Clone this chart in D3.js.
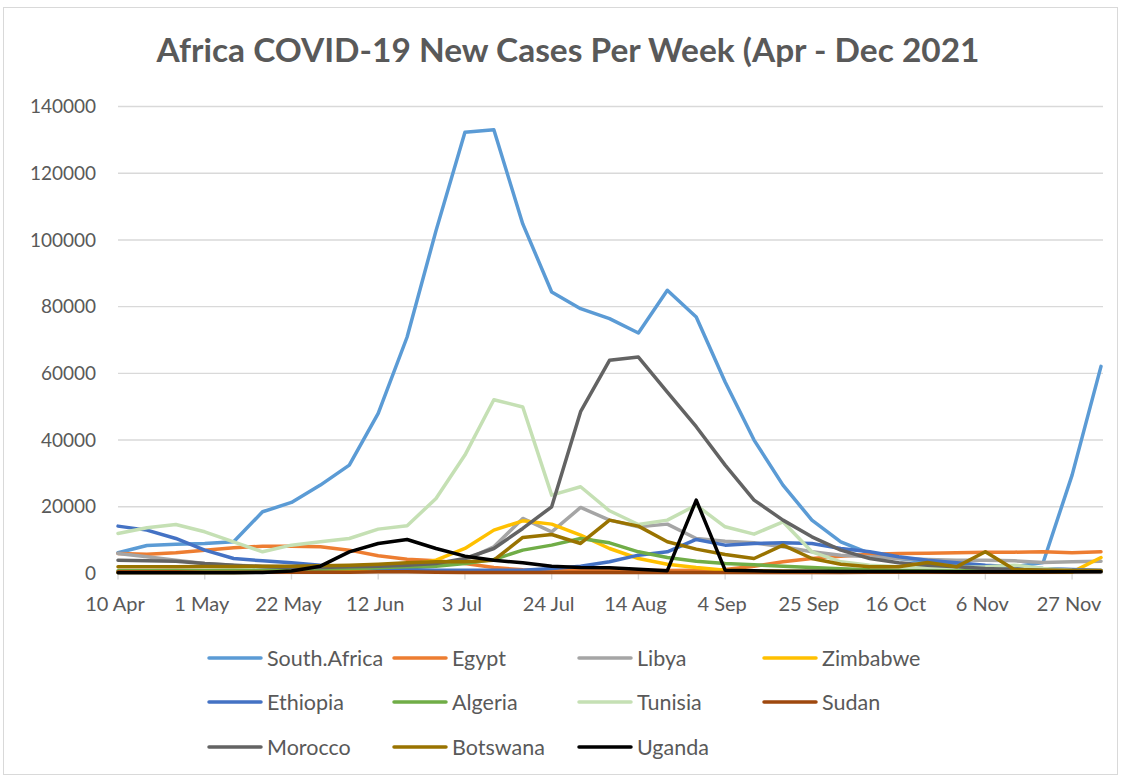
<!DOCTYPE html>
<html>
<head>
<meta charset="utf-8">
<script src="https://cdn.jsdelivr.net/npm/d3@7"></script>
<style>
  body { margin: 0; background: #fff; }
  text { font-family: Lato, "Open Sans", sans-serif; fill: #595959; }
</style>
</head>
<body>
<div id="chart"></div>
<script>
//////////////////////////////////////////////////////////////////////////////
// Data

var weeks = ["10 Apr", "17 Apr", "24 Apr", "1 May", "8 May", "15 May", "22 May",
             "29 May", "5 Jun", "12 Jun", "19 Jun", "26 Jun", "3 Jul", "10 Jul",
             "17 Jul", "24 Jul", "31 Jul", "7 Aug", "14 Aug", "21 Aug", "28 Aug",
             "4 Sep", "11 Sep", "18 Sep", "25 Sep", "2 Oct", "9 Oct", "16 Oct",
             "23 Oct", "30 Oct", "6 Nov", "13 Nov", "20 Nov", "27 Nov", "4 Dec"];

var yTicks = [0, 20000, 40000, 60000, 80000, 100000, 120000, 140000];

var southAfrica = [6200, 8400, 8800, 9000, 9500, 18500, 21300, 26500, 32500, 48000,
                   70900, 102800, 132300, 133000, 104800, 84400, 79400, 76400, 72100, 84900,
                   76900, 57400, 40000, 26500, 16000, 9500, 6000, 4500, 3500, 2500,
                   2200, 2000, 3300, 29500, 62100];
var egypt = [6000, 5800, 6200, 7000, 7700, 8200, 8200, 8000, 7000, 5300,
             4300, 3800, 3000, 1800, 1100, 1000, 900, 900, 900, 900,
             1000, 1200, 2200, 3500, 4500, 5200, 5800, 6000, 6100, 6200,
             6400, 6400, 6500, 6200, 6500];
var libya = [6000, 5000, 4000, 3000, 2500, 2200, 2000, 2000, 2000, 2200,
             2500, 2800, 4000, 8000, 16500, 12500, 19800, 16000, 14000, 14800,
             10500, 9700, 9200, 8000, 6500, 5500, 5000, 4500, 4200, 4000,
             4000, 3800, 3300, 3500, 3700];
var zimbabwe = [300, 300, 300, 300, 300, 400, 400, 500, 1000, 1500,
                2500, 4000, 7500, 13000, 15800, 14800, 11500, 7500, 4500, 2800,
                1800, 1000, 800, 700, 600, 600, 500, 500, 500, 400,
                400, 400, 400, 400, 4800];
var ethiopia = [14200, 13000, 10500, 7000, 4500, 3800, 3200, 2500, 2000, 1500,
                1200, 1000, 1000, 1000, 1000, 1500, 2200, 3500, 5500, 6500,
                10200, 8500, 9000, 9200, 9000, 7500, 6500, 5000, 4000, 3200,
                2500, 2000, 1500, 1200, 1000];
var algeria = [800, 800, 900, 900, 1000, 1000, 1200, 1300, 1500, 1700,
               2000, 2200, 3000, 4200, 7000, 8500, 10500, 9200, 6500, 4800,
               3700, 3000, 2600, 2200, 1800, 1400, 1100, 1000, 900, 800,
               800, 700, 700, 700, 700];
var tunisia = [12000, 13700, 14700, 12500, 9500, 6500, 8500, 9500, 10500, 13300,
               14300, 22500, 35500, 52100, 49900, 23500, 26000, 18800, 14700, 16000,
               20500, 14000, 11800, 15500, 6500, 3500, 2500, 2000, 1800, 1800,
               2000, 2500, 1500, 1000, 900];
var sudan = [500, 500, 500, 400, 400, 400, 400, 400, 400, 500,
             500, 400, 300, 300, 300, 300, 300, 300, 300, 300,
             300, 300, 300, 300, 300, 300, 400, 400, 400, 400,
             400, 400, 400, 500, 600];
var morocco = [4000, 3800, 3700, 3000, 2500, 2000, 1800, 1800, 2000, 2200,
               2500, 3000, 4500, 7500, 13500, 20000, 48500, 63900, 64900, 54400,
               44000, 32500, 22000, 16000, 11000, 7000, 4500, 3200, 2500, 2000,
               1500, 1200, 1000, 900, 800];
var botswana = [2000, 2000, 2000, 2100, 2100, 2200, 2200, 2300, 2500, 2800,
                3200, 3500, 3500, 4000, 10800, 11700, 9000, 16000, 14200, 9500,
                7300, 5700, 4500, 8500, 4500, 2800, 2000, 2000, 3300, 2000,
                6500, 1200, 1000, 900, 900];
var uganda = [250, 250, 250, 250, 250, 300, 750, 2200, 6500, 9000,
              10200, 7500, 5200, 4000, 3200, 2200, 1800, 1700, 1250, 850,
              22000, 1000, 800, 700, 700, 600, 600, 600, 600, 500,
              500, 500, 500, 500, 500];

var names  = ["South.Africa", "Egypt", "Libya", "Zimbabwe",
              "Ethiopia", "Algeria", "Tunisia", "Sudan",
              "Morocco", "Botswana", "Uganda"];
var colors = ["#5b9bd5", "#ed7d31", "#a5a5a5", "#ffc000",
              "#4472c4", "#70ad47", "#c5e0b4", "#9e480e",
              "#636363", "#997300", "#000000"];
var values = [southAfrica, egypt, libya, zimbabwe, ethiopia, algeria,
              tunisia, sudan, morocco, botswana, uganda];

var series = names.map(function(n, i) {
    return { name: n, color: colors[i], values: values[i] };
});

//////////////////////////////////////////////////////////////////////////////
// Layout

var width = 1125, height = 779;
var plotLeft = 118, plotRight = 1101, plotTop = 106.5, plotBottom = 573.5;

var xScale = d3.scalePoint().domain(weeks).range([plotLeft, plotRight]);
var yScale = d3.scaleLinear().domain([0, 140000]).range([plotBottom, plotTop]);

var svg = d3.select("#chart")
    .append("svg")
    .attr("width", width)
    .attr("height", height);

svg.append("rect")
    .attr("width", width).attr("height", height)
    .attr("fill", "#fff");

svg.append("rect")
    .attr("x", 3.5).attr("y", 7.5)
    .attr("width", 1114).attr("height", 767)
    .attr("fill", "none")
    .attr("stroke", "#d9d9d9")
    .attr("stroke-width", 1);

svg.append("text")
    .attr("x", 568)
    .attr("y", 62)
    .attr("text-anchor", "middle")
    .attr("font-size", 32)
    .attr("font-weight", "bold")
    .attr("textLength", 823)
    .attr("lengthAdjust", "spacingAndGlyphs")
    .text("Africa COVID-19 New Cases Per Week (Apr - Dec 2021");

// gridlines
svg.append("g")
    .selectAll("line")
    .data(yTicks)
    .enter()
    .append("line")
    .attr("x1", plotLeft).attr("x2", plotRight + 2)
    .attr("y1", function(d) { return yScale(d); })
    .attr("y2", function(d) { return yScale(d); })
    .attr("stroke", "#d9d9d9")
    .attr("stroke-width", 1.4);

svg.append("g")
    .selectAll("text")
    .data(yTicks)
    .enter()
    .append("text")
    .attr("x", 96)
    .attr("y", function(d) { return yScale(d); })
    .attr("dy", "0.35em")
    .attr("text-anchor", "end")
    .attr("font-size", 19)
    .text(function(d) { return d; });

// x axis ticks and labels, every third week
var xTicks = weeks.filter(function(d, i) { return i % 3 === 0; });

svg.append("g")
    .selectAll("line")
    .data(xTicks)
    .enter()
    .append("line")
    .attr("x1", function(d) { return xScale(d); })
    .attr("x2", function(d) { return xScale(d); })
    .attr("y1", plotBottom).attr("y2", plotBottom + 6)
    .attr("stroke", "#d9d9d9")
    .attr("stroke-width", 1.4);

svg.append("g")
    .selectAll("text")
    .data(xTicks)
    .enter()
    .append("text")
    .attr("x", function(d) { return xScale(d) - 3; })
    .attr("y", 611)
    .attr("text-anchor", "middle")
    .attr("font-size", 20)
    .text(function(d) { return d; });

// lines
var line = d3.line()
    .x(function(d, i) { return xScale(weeks[i]); })
    .y(function(d) { return yScale(d); });

svg.append("g")
    .selectAll("path")
    .data(series)
    .enter()
    .append("path")
    .attr("d", function(d) { return line(d.values); })
    .attr("fill", "none")
    .attr("stroke", function(d) { return d.color; })
    .attr("stroke-width", 3.5)
    .attr("stroke-linejoin", "round")
    .attr("stroke-linecap", "round");

// legend, 4 per row
var legend = svg.append("g")
    .selectAll("g")
    .data(series)
    .enter()
    .append("g")
    .attr("transform", function(d, i) {
        return "translate(" + (209 + (i % 4) * 185) + "," + [658, 702, 747][Math.floor(i / 4)] + ")";
    });

legend.append("line")
    .attr("x1", 0).attr("x2", 52)
    .attr("stroke", function(d) { return d.color; })
    .attr("stroke-width", 3.5)
    .attr("stroke-linecap", "round");

legend.append("text")
    .attr("x", 58)
    .attr("dy", "0.35em")
    .attr("font-size", 21.5)
    .text(function(d) { return d.name; });
</script>
</body>
</html>
